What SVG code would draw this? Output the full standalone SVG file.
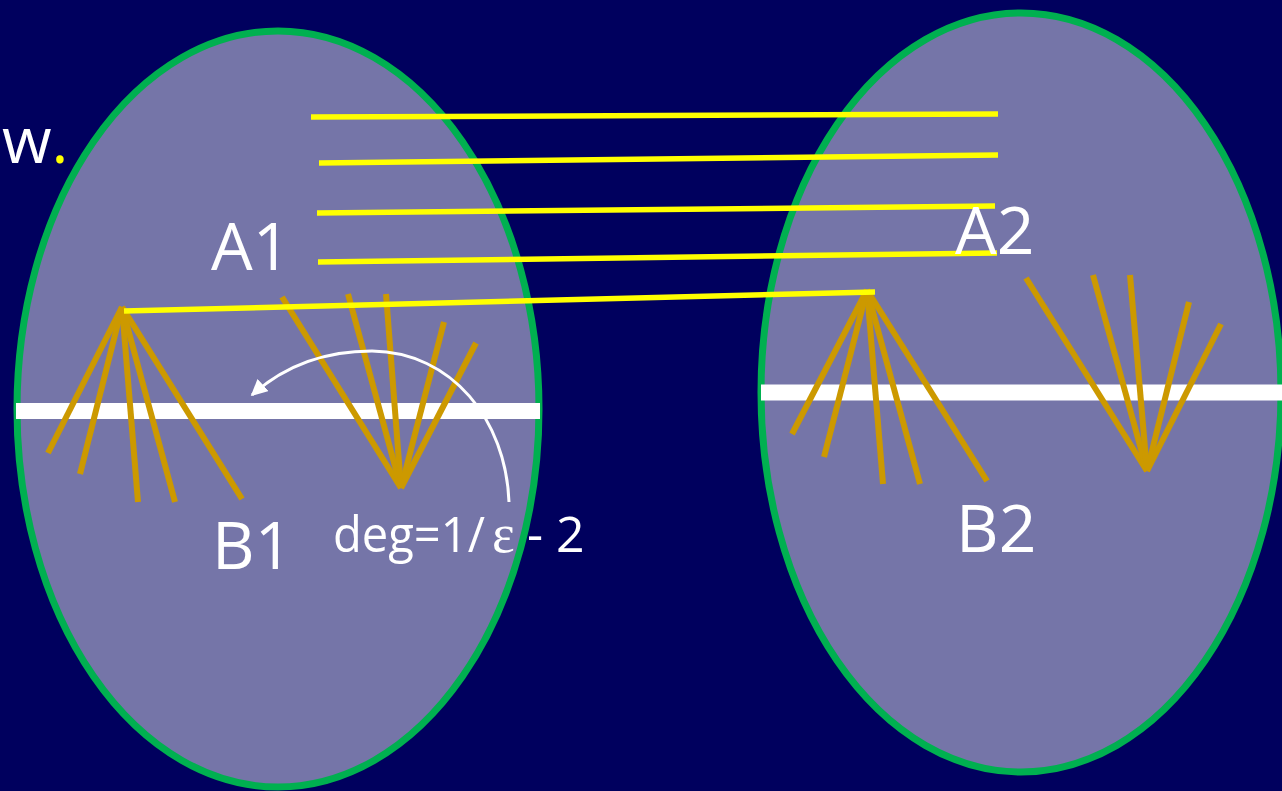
<svg xmlns="http://www.w3.org/2000/svg" width="1282" height="791" viewBox="0 0 1282 791">
<style>
.ell{fill:#7575A8;stroke:#00B050;stroke-width:7}
.bar{stroke:#FFFFFF;stroke-width:16}
.gold{stroke:#CC9900;stroke-width:6;stroke-linecap:butt}
.yel{stroke:#FFFF00;stroke-width:5.5}
.lbl{font-family:"Open Sans","Liberation Sans",sans-serif;fill:#FFFFFF}
.eps{font-family:"Liberation Serif",serif;fill:#FFFFFF}
</style>
<defs>
<marker id="ah" viewBox="0 0 10 10" refX="9" refY="5" markerWidth="5.5" markerHeight="5.5" orient="auto" markerUnits="strokeWidth">
<path d="M0,0 L10,5 L0,10 Z" fill="#FFFFFF"/>
</marker>
</defs>
<rect width="1282" height="791" fill="#00005E"/>
<g id="setL">
<ellipse class="ell" cx="278" cy="409" rx="261" ry="378"/>
<line class="bar" x1="16" y1="411" x2="540" y2="411"/>
</g>
<g id="setR">
<ellipse class="ell" cx="1021" cy="392.5" rx="260" ry="379.5"/>
<line class="bar" x1="761" y1="392.5" x2="1282" y2="392.5"/>
</g>
<g id="fanL1">
<line class="gold" x1="122" y1="307" x2="48" y2="453"/>
<line class="gold" x1="122" y1="307" x2="80" y2="474"/>
<line class="gold" x1="122" y1="307" x2="138" y2="502"/>
<line class="gold" x1="122" y1="307" x2="175" y2="502"/>
<line class="gold" x1="122" y1="307" x2="242" y2="499"/>
</g>
<g id="fanL2">
<line class="gold" x1="401" y1="488" x2="282" y2="297"/>
<line class="gold" x1="401" y1="488" x2="348" y2="294"/>
<line class="gold" x1="401" y1="488" x2="386" y2="294"/>
<line class="gold" x1="401" y1="488" x2="444" y2="322"/>
<line class="gold" x1="401" y1="488" x2="476" y2="343"/>
</g>
<g id="fanR1">
<line class="gold" x1="867" y1="290" x2="792" y2="434"/>
<line class="gold" x1="867" y1="290" x2="824" y2="457"/>
<line class="gold" x1="867" y1="290" x2="883" y2="484"/>
<line class="gold" x1="867" y1="290" x2="920" y2="484"/>
<line class="gold" x1="867" y1="290" x2="987" y2="481"/>
</g>
<g id="fanR2">
<line class="gold" x1="1147" y1="471" x2="1026" y2="278"/>
<line class="gold" x1="1147" y1="471" x2="1093" y2="275"/>
<line class="gold" x1="1147" y1="471" x2="1130" y2="275"/>
<line class="gold" x1="1147" y1="471" x2="1189" y2="302"/>
<line class="gold" x1="1147" y1="471" x2="1221" y2="324"/>
</g>
<g id="connectors">
<line class="yel" x1="311" y1="117" x2="998" y2="114"/>
<line class="yel" x1="319" y1="163" x2="998" y2="155"/>
<line class="yel" x1="317" y1="213" x2="995" y2="206"/>
<line class="yel" x1="318" y1="262" x2="997" y2="253"/>
<line class="yel" x1="124" y1="311" x2="875" y2="292"/>
<path d="M509,502 C506,420 452,352 372,351 C320,351 282,368 252,395" fill="none" stroke="#FFFFFF" stroke-width="3" marker-end="url(#ah)"/>
</g>
<g id="labels">
<text class="lbl" x="2" y="163" font-size="64">w<tspan fill="#FFFF00">.</tspan></text>
<text class="lbl" x="211" y="270" font-size="66">A1</text>
<text class="lbl" x="955" y="254" font-size="66">A2</text>
<text class="lbl" x="212" y="569" font-size="66">B1</text>
<text class="lbl" x="956" y="552" font-size="66">B2</text>
<text class="lbl" x="333" y="552" font-size="50" textLength="152" lengthAdjust="spacingAndGlyphs">deg=1/</text>
<text class="eps" x="492" y="552" font-size="54">ε</text>
<text class="lbl" x="527" y="552" font-size="50">- 2</text>
</g>
</svg>
